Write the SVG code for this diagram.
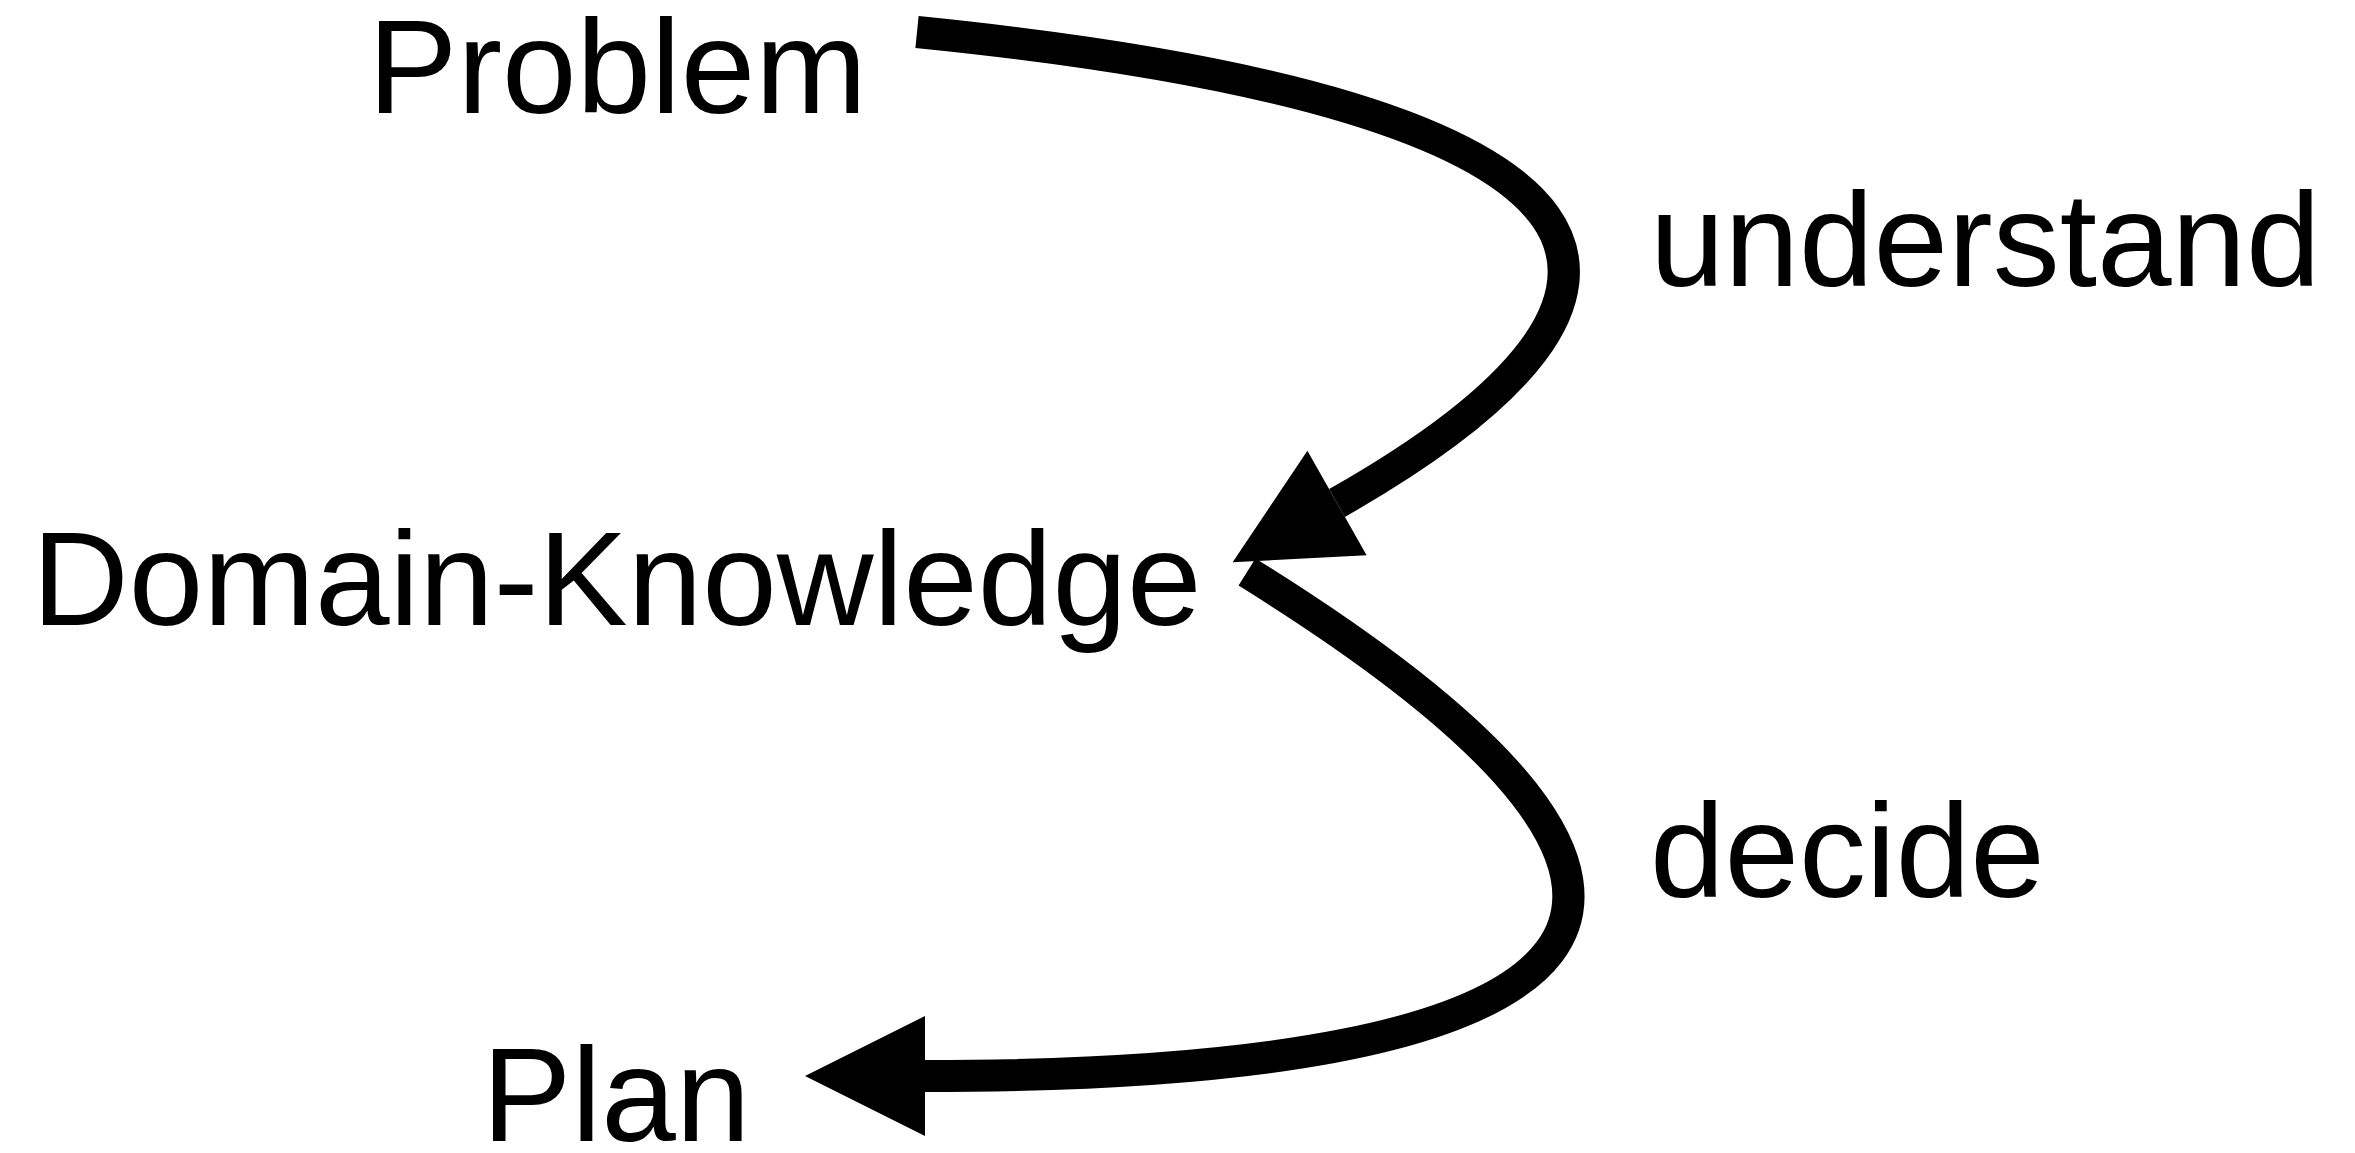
<svg xmlns="http://www.w3.org/2000/svg" width="2355" height="1153" viewBox="0 0 2355 1153">
  <style>
    .label { font-family: "Liberation Sans", Arial, Helvetica, sans-serif; font-size: 134px; fill: #000; }
    .flow { fill: none; stroke: #000; stroke-width: 32; stroke-linecap: butt; marker-end: url(#head); }
  </style>
  <defs>
    <!-- filled triangular head, 120 long and 120 wide, based at the path end -->
    <marker id="head" markerUnits="userSpaceOnUse" markerWidth="120" markerHeight="120" refX="0" refY="60" orient="auto" overflow="visible">
      <path d="M0,0 L120,60 L0,120 Z" fill="#000"/>
    </marker>
  </defs>
  <rect width="2355" height="1153" fill="#fff"/>

  <g id="node-problem">
    <text class="label" x="368" y="113">Problem</text>
  </g>
  <g id="node-domain-knowledge">
    <text class="label" x="32" y="625">Domain-Knowledge</text>
  </g>
  <g id="node-plan">
    <text class="label" x="482" y="1141">Plan</text>
  </g>

  <g id="connectors">
    <!-- Problem to Domain-Knowledge -->
    <path class="flow" d="M917,32 C1663,107 1707,293 1337,503"/>
    <!-- Domain-Knowledge to Plan -->
    <path class="flow" d="M1247,572 C1795,912 1613,1076 925,1076"/>
    <text class="label" x="1650" y="286">understand</text>
    <text class="label" x="1650" y="897">decide</text>
  </g>
</svg>
